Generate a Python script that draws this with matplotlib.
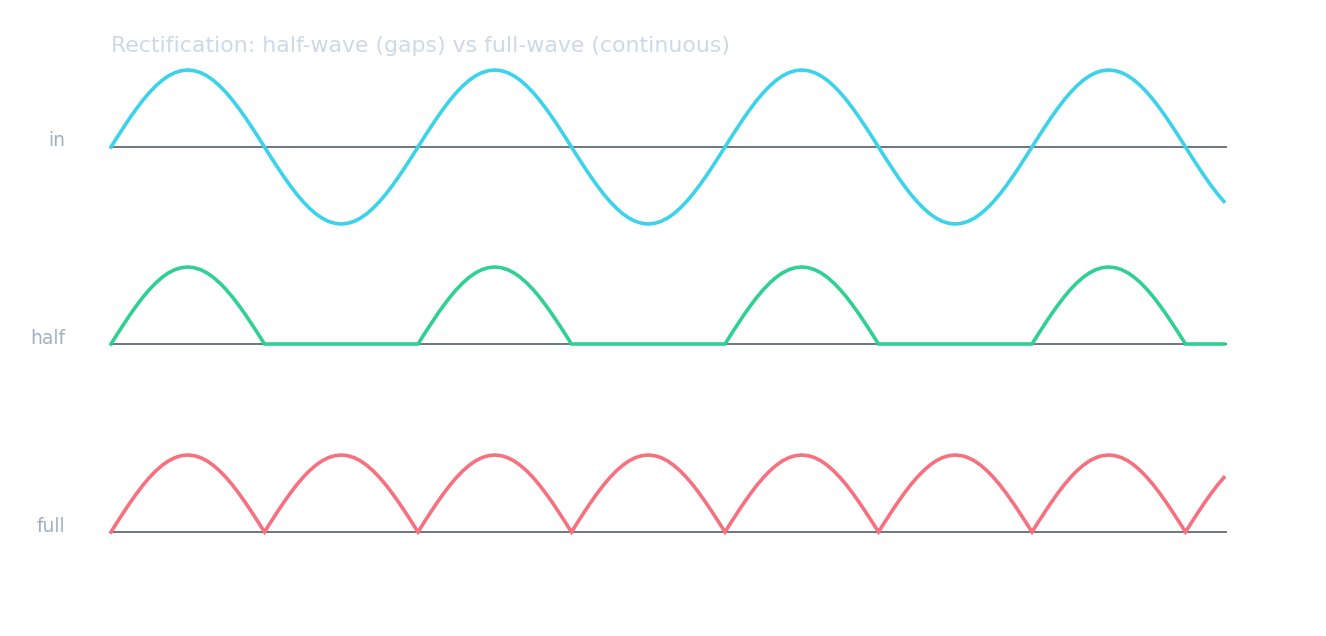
import numpy as np
import matplotlib.pyplot as plt

# input signal, every 7.5 degrees of phase (unit amplitude)
rise = [0, 0.131, 0.259, 0.383, 0.5, 0.609, 0.707, 0.793, 0.866, 0.924, 0.966, 0.991, 1,
        0.991, 0.966, 0.924, 0.866, 0.793, 0.707, 0.609, 0.5, 0.383, 0.259, 0.131]
fall = [-v for v in rise]
one_period = rise + fall
signal_in = one_period * 3 + rise + fall[:7]
step_deg = 7.5

rows = ['in', 'half', 'full']
colors = ['#3ad3ea', '#2fd193', '#f7707f']

phase = np.arange(len(signal_in)) * step_deg
v_in = np.array(signal_in)
v_half = np.maximum(v_in, 0)
v_full = np.abs(v_in)
series = [v_in, v_half, v_full]

fig = plt.figure(figsize=(13.26, 6.36), dpi=100)
W, H = 1326, 636
baselines = [147, 344, 532]
amp = 77
left, right_px = 111, 1227
xmax = (right_px - left) * 360 / 307

for name, vals, col, base in zip(rows, series, colors, baselines):
    ax = fig.add_axes([left / W, (H - base - amp) / H, (right_px - left) / W, 2 * amp / H])
    ax.set_xlim(0, xmax)
    ax.set_ylim(-1, 1)
    ax.axhline(0, color='#5f6b7a', lw=1.3, zorder=1)
    ax.plot(phase, vals, color=col, lw=2.6, zorder=2, clip_on=False,
            solid_joinstyle='miter')
    ax.axis('off')
    ax.patch.set_alpha(0)
    fig.text(65 / W, (H - base + 6) / H, name, ha='right', va='center',
             fontsize=13.5, color='#a0b0c4')

fig.text(left / W, (H - 46) / H, 'Rectification: half-wave (gaps) vs full-wave (continuous)',
         ha='left', va='center', fontsize=15.8, color='#cdd9e6')

fig.savefig('out.png', dpi=100)
